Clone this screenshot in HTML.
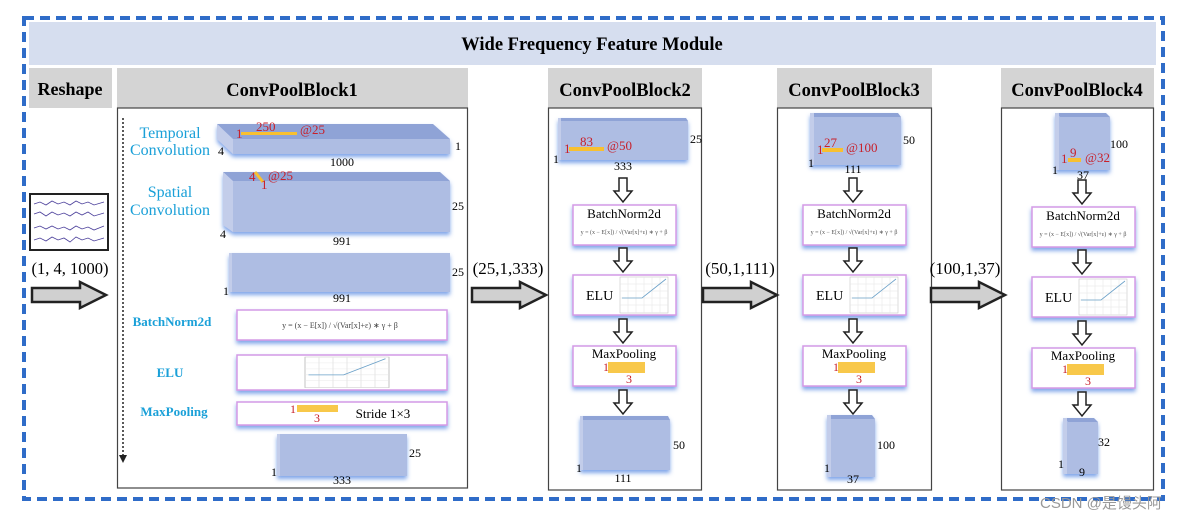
<!DOCTYPE html>
<html><head><meta charset="utf-8"><style>
body{margin:0;background:#fff}
svg text{font-family:"Liberation Serif","Noto Serif CJK SC",serif}
</style></head><body>
<svg width="1193" height="521" viewBox="0 0 1193 521" xmlns="http://www.w3.org/2000/svg">
<defs>
<filter id="sh" x="-10%" y="-20%" width="120%" height="160%"><feDropShadow dx="0" dy="3" stdDeviation="2" flood-color="#4a7fe0" flood-opacity="0.7"/></filter>
<g id="darr"><polygon points="-4,0 4,0 4,13 9,13 0,24 -9,13 -4,13" fill="#fff" stroke="#222" stroke-width="1.5"/></g>
<g id="bigarr"><polygon points="0,6 48,6 48,0 74,13 48,26 48,20 0,20" fill="#d0d0d0" stroke="#222" stroke-width="2.5"/></g>
<g id="elu">
<rect x="0" y="0" width="48" height="36" fill="#fff" stroke="#bbb" stroke-width="0.5"/>
<path d="M8 0V36M16 0V36M24 0V36M32 0V36M40 0V36M0 7H48M0 14H48M0 21H48M0 28H48" stroke="#e4e4e4" stroke-width="0.5"/>
<polyline points="2,21 22,21 46,2" fill="none" stroke="#6aa0c8" stroke-width="0.8"/>
</g>
<g id="ops">
<use href="#darr" x="0" y="178"/>
<rect x="-50" y="205" width="103" height="40" fill="#fff" stroke="#d49ae6" stroke-width="1.5" filter="url(#sh)"/>
<text x="1" y="218" font-size="13" text-anchor="middle">BatchNorm2d</text>
<text x="1" y="234" font-size="6" text-anchor="middle" fill="#555">y = (x − E[x]) / √(Var[x]+ε) ∗ γ + β</text>
<use href="#darr" x="0" y="248"/>
<rect x="-50" y="275" width="103" height="40" fill="#fff" stroke="#d49ae6" stroke-width="1.5" filter="url(#sh)"/>
<text x="-37" y="300" font-size="14">ELU</text>
<use href="#elu" x="-3" y="277"/>
<use href="#darr" x="0" y="319"/>
<rect x="-50" y="346" width="103" height="40" fill="#fff" stroke="#d49ae6" stroke-width="1.5" filter="url(#sh)"/>
<text x="1" y="358" font-size="13" text-anchor="middle">MaxPooling</text>
<rect x="-15" y="362" width="37" height="11" fill="#f8c84a"/>
<text x="-20" y="371" font-size="12" fill="#c8202a">1</text>
<text x="3" y="383" font-size="12" fill="#c8202a">3</text>
<use href="#darr" x="0" y="390"/>
</g>
</defs>

<rect x="24" y="18" width="1139" height="481" fill="none" stroke="#2f6cc8" stroke-width="4" stroke-dasharray="10,6"/>
<rect x="29" y="22" width="1127" height="43" fill="#d6deef"/>
<text x="592" y="50" font-size="18.5" font-weight="bold" text-anchor="middle">Wide Frequency Feature Module</text>

<rect x="29" y="68" width="83" height="40" fill="#d4d4d4"/>
<text x="70" y="95" font-size="18" font-weight="bold" text-anchor="middle">Reshape</text>
<rect x="117" y="68" width="351" height="40" fill="#d4d4d4"/>
<text x="292" y="96" font-size="18.5" font-weight="bold" text-anchor="middle">ConvPoolBlock1</text>
<rect x="548" y="68" width="154" height="40" fill="#d4d4d4"/>
<text x="625" y="96" font-size="18.5" font-weight="bold" text-anchor="middle">ConvPoolBlock2</text>
<rect x="777" y="68" width="155" height="40" fill="#d4d4d4"/>
<text x="854" y="96" font-size="18.5" font-weight="bold" text-anchor="middle">ConvPoolBlock3</text>
<rect x="1001" y="68" width="153" height="40" fill="#d4d4d4"/>
<text x="1077" y="96" font-size="18.5" font-weight="bold" text-anchor="middle">ConvPoolBlock4</text>

<rect x="117.5" y="108" width="350" height="380" fill="none" stroke="#444" stroke-width="1.2"/>
<rect x="548.5" y="108" width="153" height="382" fill="none" stroke="#444" stroke-width="1.2"/>
<rect x="777.5" y="108" width="154" height="382" fill="none" stroke="#444" stroke-width="1.2"/>
<rect x="1001.5" y="108" width="152" height="382" fill="none" stroke="#444" stroke-width="1.2"/>

<rect x="30" y="194" width="78" height="56" fill="#fff" stroke="#222" stroke-width="2"/>
<g fill="none" stroke="#4a3e9a" stroke-width="0.8">
<polyline points="34,204 40,202 46,205 52,201 58,204 64,202 70,205 76,201 82,204 88,202 94,205 104,202"/>
<polyline points="34,214 40,212 46,216 52,212 58,215 64,213 70,216 76,212 82,215 88,212 94,216 104,213"/>
<polyline points="34,228 40,226 46,229 52,226 58,229 64,227 70,230 76,226 82,229 88,227 94,230 104,226"/>
<polyline points="34,240 40,238 46,241 52,237 58,240 64,238 70,242 76,237 82,240 88,238 94,241 104,238"/>
</g>
<text x="70" y="274" font-size="16.5" text-anchor="middle">(1, 4, 1000)</text>
<use href="#bigarr" x="32" y="282"/>

<line x1="123" y1="118" x2="123" y2="456" stroke="#222" stroke-width="1.5" stroke-dasharray="2,2"/>
<polygon points="119,455 127,455 123,463" fill="#222"/>
<g fill="#1aa0d8">
<text x="170" y="138" font-size="16" text-anchor="middle">Temporal</text>
<text x="170" y="155" font-size="16" text-anchor="middle">Convolution</text>
<text x="170" y="197" font-size="16" text-anchor="middle">Spatial</text>
<text x="170" y="215" font-size="16" text-anchor="middle">Convolution</text>
<text x="172" y="326" font-size="13" font-weight="bold" text-anchor="middle">BatchNorm2d</text>
<text x="170" y="377" font-size="13" font-weight="bold" text-anchor="middle">ELU</text>
<text x="174" y="416" font-size="13" font-weight="bold" text-anchor="middle">MaxPooling</text>
</g>
<g filter="url(#sh)">
<polygon points="217,124 433,124 450,139 233,139" fill="#8fa3d6"/>
<polygon points="217,124 233,139 233,154 217,139" fill="#c3cdea"/>
<rect x="233" y="139" width="217" height="15" fill="#aebde3"/>
</g>
<rect x="241" y="132" width="56" height="3" fill="#f8c030"/>
<text x="236" y="138" font-size="13" fill="#c8202a">1</text>
<text x="256" y="131" font-size="13" fill="#c8202a">250</text>
<text x="300" y="134" font-size="13" fill="#c8202a">@25</text>
<text x="218" y="155" font-size="12">4</text>
<text x="455" y="150" font-size="12">1</text>
<text x="342" y="166" font-size="12" text-anchor="middle">1000</text>
<g filter="url(#sh)">
<polygon points="223,172 440,172 450,181 233,181" fill="#8fa3d6"/>
<polygon points="223,172 233,181 233,232 223,225" fill="#c3cdea"/>
<rect x="233" y="181" width="217" height="51" fill="#aebde3"/>
</g>
<line x1="255" y1="172" x2="263" y2="182" stroke="#f8c030" stroke-width="3"/>
<text x="249" y="181" font-size="13" fill="#c8202a">4</text>
<text x="261" y="189" font-size="13" fill="#c8202a">1</text>
<text x="268" y="180" font-size="13" fill="#c8202a">@25</text>
<text x="220" y="238" font-size="12">4</text>
<text x="452" y="210" font-size="12">25</text>
<text x="342" y="245" font-size="12" text-anchor="middle">991</text>
<g filter="url(#sh)"><rect x="229" y="253" width="221" height="39" fill="#aebde3"/><rect x="229" y="253" width="3" height="39" fill="#c3cdea"/></g>
<text x="223" y="295" font-size="12">1</text>
<text x="452" y="276" font-size="12">25</text>
<text x="342" y="302" font-size="12" text-anchor="middle">991</text>
<rect x="237" y="310" width="210" height="30" fill="#fff" stroke="#d49ae6" stroke-width="1.5" filter="url(#sh)"/>
<text x="340" y="328" font-size="8" text-anchor="middle" fill="#444">y = (x − E[x]) / √(Var[x]+ε) ∗ γ + β</text>
<rect x="237" y="355" width="210" height="35" fill="#fff" stroke="#d49ae6" stroke-width="1.5" filter="url(#sh)"/>
<g transform="translate(305,357) scale(1.75,0.85)"><use href="#elu"/></g>
<rect x="237" y="402" width="210" height="23" fill="#fff" stroke="#d49ae6" stroke-width="1.5" filter="url(#sh)"/>
<rect x="297" y="405" width="41" height="7" fill="#f8c84a"/>
<text x="290" y="413" font-size="12" fill="#c8202a">1</text>
<text x="314" y="422" font-size="12" fill="#c8202a">3</text>
<text x="383" y="418" font-size="13" text-anchor="middle">Stride 1×3</text>
<g filter="url(#sh)"><rect x="277" y="434" width="130" height="42" fill="#aebde3"/><rect x="277" y="434" width="3" height="42" fill="#c3cdea"/></g>
<text x="271" y="476" font-size="12">1</text>
<text x="409" y="457" font-size="12">25</text>
<text x="342" y="484" font-size="12" text-anchor="middle">333</text>

<text x="508" y="274" font-size="17" text-anchor="middle">(25,1,333)</text>
<use href="#bigarr" x="472" y="282"/>
<text x="740" y="274" font-size="17" text-anchor="middle">(50,1,111)</text>
<use href="#bigarr" x="703" y="282"/>
<text x="965" y="274" font-size="17" text-anchor="middle">(100,1,37)</text>
<use href="#bigarr" x="931" y="282"/>

<g filter="url(#sh)"><polygon points="558,118 686,118 688,121 560,121" fill="#8fa3d6"/><rect x="558" y="121" width="130" height="39" fill="#aebde3"/><rect x="558" y="118" width="3" height="42" fill="#c3cdea"/></g>
<rect x="569" y="147" width="35" height="4" fill="#f8c030"/>
<text x="564" y="153" font-size="13" fill="#c8202a">1</text>
<text x="580" y="146" font-size="13" fill="#c8202a">83</text>
<text x="607" y="150" font-size="13" fill="#c8202a">@50</text>
<text x="690" y="143" font-size="12">25</text>
<text x="553" y="163" font-size="12">1</text>
<text x="623" y="170" font-size="12" text-anchor="middle">333</text>
<g transform="translate(623,0)"><use href="#ops"/></g>
<g filter="url(#sh)"><polygon points="580,416 668,416 670,420 582,420" fill="#8fa3d6"/><rect x="582" y="420" width="88" height="50" fill="#aebde3"/><rect x="580" y="416" width="3" height="54" fill="#c3cdea"/></g>
<text x="673" y="449" font-size="12">50</text>
<text x="576" y="472" font-size="12">1</text>
<text x="623" y="482" font-size="12" text-anchor="middle">111</text>

<g filter="url(#sh)"><polygon points="811,113 898,113 901,117 814,117" fill="#8fa3d6"/><rect x="813" y="117" width="88" height="48" fill="#aebde3"/><rect x="810" y="113" width="4" height="52" fill="#c3cdea"/></g>
<rect x="822" y="148" width="21" height="4" fill="#f8c030"/>
<text x="817" y="154" font-size="13" fill="#c8202a">1</text>
<text x="824" y="147" font-size="13" fill="#c8202a">27</text>
<text x="846" y="152" font-size="13" fill="#c8202a">@100</text>
<text x="903" y="144" font-size="12">50</text>
<text x="808" y="167" font-size="12">1</text>
<text x="853" y="173" font-size="12" text-anchor="middle">111</text>
<g transform="translate(853,0)"><use href="#ops"/></g>
<g filter="url(#sh)"><polygon points="828,415 872,415 875,419 831,419" fill="#8fa3d6"/><rect x="830" y="419" width="45" height="58" fill="#aebde3"/><rect x="827" y="415" width="4" height="62" fill="#c3cdea"/></g>
<text x="877" y="449" font-size="12">100</text>
<text x="824" y="472" font-size="12">1</text>
<text x="853" y="483" font-size="12" text-anchor="middle">37</text>

<g filter="url(#sh)"><polygon points="1056,113 1106,113 1110,117 1060,117" fill="#8fa3d6"/><rect x="1059" y="117" width="51" height="53" fill="#aebde3"/><rect x="1055" y="113" width="4" height="57" fill="#c3cdea"/></g>
<rect x="1068" y="158" width="13" height="4" fill="#f8c030"/>
<text x="1061" y="163" font-size="13" fill="#c8202a">1</text>
<text x="1070" y="157" font-size="13" fill="#c8202a">9</text>
<text x="1085" y="162" font-size="13" fill="#c8202a">@32</text>
<text x="1110" y="148" font-size="12">100</text>
<text x="1052" y="174" font-size="12">1</text>
<text x="1083" y="179" font-size="12" text-anchor="middle">37</text>
<g transform="translate(1082,2)"><use href="#ops"/></g>
<g filter="url(#sh)"><polygon points="1064,418 1094,418 1098,422 1068,422" fill="#8fa3d6"/><rect x="1067" y="422" width="31" height="52" fill="#aebde3"/><rect x="1063" y="418" width="4" height="56" fill="#c3cdea"/></g>
<text x="1098" y="446" font-size="12">32</text>
<text x="1058" y="468" font-size="12">1</text>
<text x="1082" y="476" font-size="12" text-anchor="middle">9</text>

<text x="1040" y="508" font-size="15" fill="#999" style="font-family:'Liberation Sans','Noto Sans CJK SC',sans-serif">CSDN @是馒头阿</text>
</svg>
</body></html>
